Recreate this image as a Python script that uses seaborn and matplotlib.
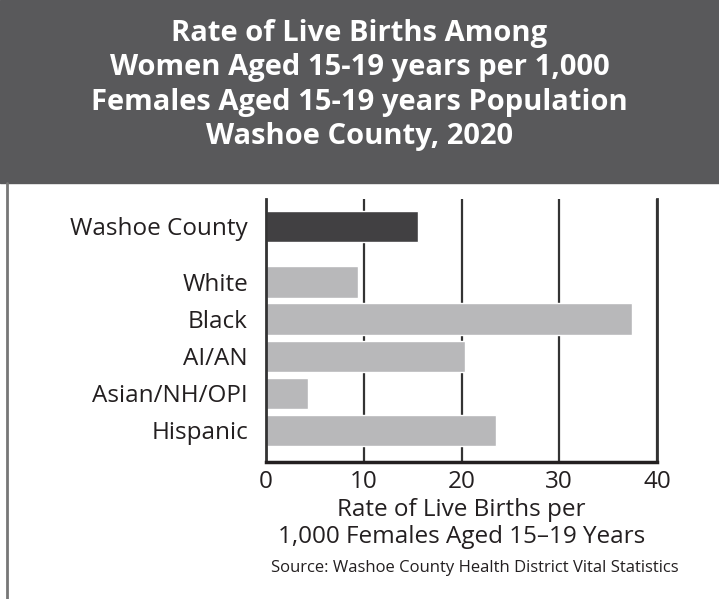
#!/usr/bin/env python3
"""Teen birth rate by race/ethnicity, Washoe County 2020"""

import pandas as pd
import numpy as np
import matplotlib
matplotlib.use('Agg')
import matplotlib.pyplot as plt
from matplotlib.patches import Rectangle
from matplotlib.lines import Line2D
import seaborn as sns

# --------------------------------------------------
labels = ['Washoe County', 'White', 'Black', 'AI/AN', 'Asian/NH/OPI', 'Hispanic']
rates = [15.5, 9.4, 37.4, 20.4, 4.3, 23.5]
groups = ['county', 'race', 'race', 'race', 'race', 'race']
xticks = [0, 10, 20, 30, 40]

title = ('Rate of Live Births Among\n'
         'Women Aged 15-19 years per 1,000\n'
         'Females Aged 15-19 years Population\n'
         'Washoe County, 2020')
xlabel = 'Rate of Live Births per\n1,000 Females Aged 15\u201319 Years'
source = 'Source: Washoe County Health District Vital Statistics'

DARK = '#414042'
LIGHT = '#b8b8ba'
BAND = '#59595b'
TEXT = '#231f20'


# --------------------------------------------------
def main():
    sns.set_style('white')
    plt.rcParams['font.family'] = ['Open Sans', 'DejaVu Sans']

    # county row sits apart from the race rows
    pos = [0.0] + [1.5 + i for i in range(len(labels) - 1)]
    df = pd.DataFrame({'label': labels, 'rate': rates,
                       'group': groups, 'pos': pos})

    fig = plt.figure(figsize=(7.19, 5.99), dpi=100)
    fig.patch.set_facecolor('white')

    # header band and left border
    fig.add_artist(Rectangle((0, 1 - 183 / 599), 1, 183 / 599,
                             transform=fig.transFigure, color=BAND,
                             zorder=0))
    fig.add_artist(Line2D([7 / 719, 7 / 719], [0, 1 - 183 / 599],
                          transform=fig.transFigure, color='#777777',
                          lw=2))

    ax = fig.add_axes([266 / 719, 1 - 462 / 599,
                       (657 - 266) / 719, (462 - 199) / 599])

    sns.barplot(data=df, x='rate', y='pos', hue='group',
                palette={'county': DARK, 'race': LIGHT},
                orient='y', native_scale=True, dodge=False,
                width=0.84, legend=False, ax=ax, saturation=1)

    ax.set_ylim(6.36, -0.74)
    ax.set_xlim(0, 40)
    ax.set_yticks(pos)
    ax.set_yticklabels(labels)
    ax.set_xticks(xticks)
    ax.set_ylabel('')
    ax.set_xlabel(xlabel, fontsize=17.5, color=TEXT, labelpad=3,
                  linespacing=1.12)
    ax.tick_params(axis='both', length=0, labelsize=17.5, colors=TEXT)
    ax.tick_params(axis='x', pad=6)
    ax.tick_params(axis='y', pad=13)

    ax.xaxis.grid(True, color='#333333', lw=1.6)
    ax.yaxis.grid(False)
    ax.set_axisbelow(True)
    sns.despine(ax=ax, top=True, right=False, left=False, bottom=False)
    for side in ['left', 'right']:
        ax.spines[side].set_color('#333333')
        ax.spines[side].set_linewidth(2)
    ax.spines['bottom'].set_color(TEXT)
    ax.spines['bottom'].set_linewidth(2.5)

    fig.text(0.5, 1 - 85 / 599, title, ha='center', va='center',
             color='white', fontsize=21, fontweight='bold',
             linespacing=1.24)
    fig.text(475 / 719, 1 - 568 / 599, source, ha='center', va='center',
             fontsize=12, color=TEXT)

    fig.savefig('out.png', dpi=100)


# --------------------------------------------------
if __name__ == '__main__':
    main()
